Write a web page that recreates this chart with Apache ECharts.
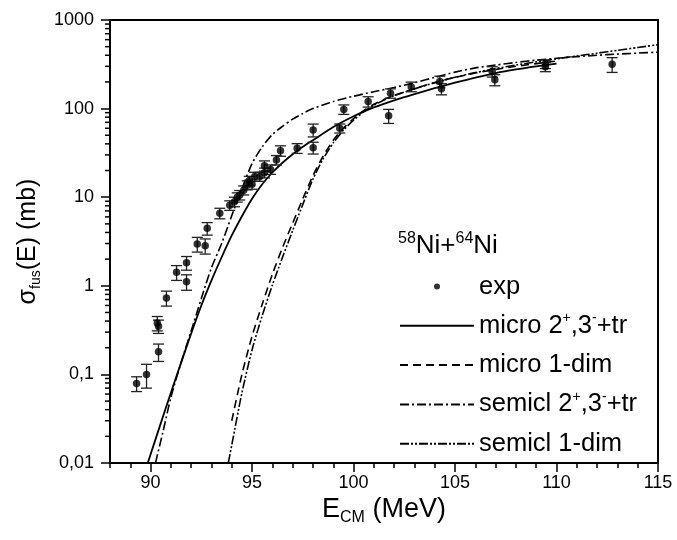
<!DOCTYPE html>
<html>
<head>
<meta charset="utf-8">
<script src="https://cdn.jsdelivr.net/npm/echarts@6/dist/echarts.min.js"></script>
<style>
  html, body { margin: 0; padding: 0; background: #fff; }
  #chart { width: 677px; height: 540px; }
</style>
</head>
<body>
<div id="chart"></div>
<script>
// Measured fusion cross sections: energy (MeV), sigma (mb), absolute error (mb)
const expE = [89.31, 89.80, 90.33, 90.39, 90.39, 90.78, 91.28, 91.77, 91.77, 92.30, 92.69, 92.79,
  93.41, 93.90, 94.13, 94.27, 94.39, 94.59, 94.76, 94.86, 95.00, 95.13, 95.38, 95.61, 95.61,
  95.91, 96.20, 96.40, 97.22, 98.01, 98.01, 99.32, 99.52, 100.72, 101.73, 101.82, 102.84,
  104.25, 104.33, 106.83, 106.96, 109.45, 109.45, 112.74];
const expSigma = [0.079, 0.10, 0.38, 0.35, 0.18, 0.73, 1.42, 1.82, 1.11, 2.96, 2.83, 4.45,
  6.6, 8.1, 8.9, 10.0, 10.6, 12.0, 13.7, 15.4, 14.0, 17.1, 17.1, 22.7, 18.9,
  20.6, 26.3, 33.5, 35.7, 57.4, 36.2, 60, 98, 120, 83, 149, 177,
  202, 167, 262, 211, 296, 318, 316];
const expErr = [0.015, 0.03, 0.07, 0.06, 0.04, 0.14, 0.27, 0.32, 0.22, 0.56, 0.55, 0.72,
  0.9, 1.0, 1.1, 1.2, 1.3, 1.4, 1.6, 1.8, 1.7, 2.0, 2.0, 3.0, 2.4,
  2.5, 3.2, 4.5, 4.5, 9.5, 5.5, 7, 12, 16, 15, 18, 22,
  30, 24, 35, 30, 35, 35, 60];

// Microscopic calculation, coupled 2+, 3- and transfer channels
const microFullE = [89.86, 90.5, 91.0, 91.5, 92.0, 92.5, 93.0, 93.5, 94.0, 94.5, 95.0, 95.5, 96.0,
  96.5, 97.0, 97.5, 98.0, 99.0, 100.0, 101.0, 102.0, 103.0, 104.0, 105.0, 106.0, 107.0, 108.0, 109.0, 110.0];
const microFullS = [0.01, 0.028, 0.062, 0.135, 0.29, 0.6, 1.15, 2.1, 3.7, 6.1, 9.6, 14.0, 19.0,
  24.5, 30.5, 37, 44, 62, 82, 103, 124, 146, 170, 196, 224, 252, 277, 300, 322];

// Microscopic calculation, one-dimensional barrier
const micro1E = [94.0, 94.5, 95.0, 95.5, 96.0, 96.5, 97.0, 97.5, 98.0, 98.5, 99.0, 99.5, 100.0,
  100.5, 101.0, 101.5, 102.0, 103.0, 104.0, 105.0, 106.0, 107.0, 108.0, 109.0, 110.0];
const micro1S = [0.03, 0.1, 0.27, 0.62, 1.35, 2.7, 5.1, 9.6, 17.5, 29, 44, 60, 77,
  95, 112, 127, 141, 168, 197, 225, 252, 276, 300, 322, 345];

// Semiclassical calculation, coupled 2+, 3- and transfer channels
const semiFullE = [90.24, 90.6, 91.0, 91.5, 92.0, 92.5, 93.0, 93.5, 94.0, 94.5, 95.0, 95.5, 96.0,
  96.5, 97.0, 97.5, 98.0, 99.0, 100.0, 101.0, 102.0, 103.0, 104.0, 105.0, 106.0, 107.0, 108.0,
  109.0, 110.0, 111.0, 112.0, 113.0, 114.0, 115.0];
const semiFullS = [0.01, 0.022, 0.055, 0.135, 0.31, 0.72, 1.6, 3.0, 6.2, 12.5, 24, 37, 51,
  63, 76, 88, 100, 120, 138, 155, 173, 196, 225, 258, 288, 310, 332,
  352, 370, 386, 400, 412, 423, 434];

// Semiclassical calculation, one-dimensional barrier
const semi1E = [93.83, 94.0, 94.5, 95.0, 95.5, 96.0, 96.5, 97.0, 97.5, 98.0, 98.5, 99.0, 99.5,
  100.0, 100.5, 101.0, 101.5, 102.0, 103.0, 104.0, 105.0, 106.0, 107.0, 108.0, 109.0, 110.0,
  111.0, 112.0, 113.0, 114.0, 115.0];
const semi1S = [0.01, 0.016, 0.062, 0.19, 0.46, 1.02, 2.1, 4.2, 8.3, 16, 27, 41, 57,
  74, 92, 109, 125, 140, 167, 196, 226, 255, 283, 310, 337, 364,
  393, 422, 455, 489, 525];

// Axis ticks
const xMajorTicks = [90, 95, 100, 105, 110, 115];
const yDecades = [0.01, 0.1, 1, 10, 100];
const yMinorSteps = [2, 3, 4, 5, 6, 7, 8, 9];

const X_MIN = 88, X_MAX = 115;
const FONT = '"Liberation Sans", Arial, sans-serif';

const yMinorTicks = [];
yDecades.forEach(d => yMinorSteps.forEach(s => yMinorTicks.push([X_MIN, +(d * s).toPrecision(3)])));

const legendLabels = {
  'exp': 'exp',
  'micro 2+,3-+tr': 'micro 2{sup|+},3{sup|-}+tr',
  'micro 1-dim': 'micro 1-dim',
  'semicl 2+,3-+tr': 'semicl 2{sup|+},3{sup|-}+tr',
  'semicl 1-dim': 'semicl 1-dim'
};

const zip = (xs, ys) => xs.map((x, i) => [x, ys[i]]);

const chart = echarts.init(document.getElementById('chart'), null, { renderer: 'canvas' });

const curveStyle = (dash, width) => ({
  type: 'line', symbol: 'none', showSymbol: false, smooth: 0.25, silent: true,
  lineStyle: { color: '#000', width: width, type: dash },
  itemStyle: { color: '#000' }, z: 3
});

// legend entries for the curves show only the line sample
const lineLegendItem = name => ({ name: name, itemStyle: { opacity: 0 } });

chart.setOption({
  animation: false,
  backgroundColor: '#fff',
  textStyle: { fontFamily: FONT, color: '#000' },
  title: {
    text: '{sup|58}Ni+{sup|64}Ni',
    left: 398, top: 231, padding: 0,
    textStyle: {
      fontFamily: FONT, fontSize: 26, fontWeight: 'normal', color: '#000', lineHeight: 30,
      rich: { sup: { fontFamily: FONT, fontSize: 16, verticalAlign: 'top', lineHeight: 30, color: '#000' } }
    }
  },
  legend: {
    orient: 'vertical', left: 399, top: 272, padding: 0,
    itemWidth: 74, itemHeight: 6, itemGap: 10.3,
    selectedMode: false,
    formatter: name => legendLabels[name],
    textStyle: {
      fontFamily: FONT, fontSize: 25.5, color: '#000', lineHeight: 29,
      rich: { sup: { fontFamily: FONT, fontSize: 14, verticalAlign: 'top', lineHeight: 29, color: '#000' } }
    },
    data: [
      { name: 'exp', icon: 'circle' },
      lineLegendItem('micro 2+,3-+tr'),
      lineLegendItem('micro 1-dim'),
      lineLegendItem('semicl 2+,3-+tr'),
      lineLegendItem('semicl 1-dim')
    ]
  },
  grid: {
    left: 110, right: 19, top: 20, bottom: 77,
    show: true, borderColor: '#000', borderWidth: 2, backgroundColor: 'transparent'
  },
  xAxis: [
    {
      type: 'value', min: X_MIN, max: X_MAX, interval: 1, position: 'bottom',
      axisLine: { show: true, lineStyle: { color: '#000', width: 2 } },
      axisTick: { show: true, inside: false, length: 5, lineStyle: { color: '#000', width: 1.5 } },
      axisLabel: { show: false },
      splitLine: { show: false },
      name: 'E{sub|CM} (MeV)', nameLocation: 'middle', nameGap: 31,
      nameTextStyle: {
        fontFamily: FONT, fontSize: 27, color: '#000', lineHeight: 32,
        rich: { sub: { fontFamily: FONT, fontSize: 16, verticalAlign: 'bottom', lineHeight: 32, color: '#000' } }
      }
    },
    {
      type: 'value', min: X_MIN, max: X_MAX, position: 'bottom',
      axisLine: { show: false },
      axisTick: { show: true, inside: false, length: 9, customValues: xMajorTicks, lineStyle: { color: '#000', width: 1.5 } },
      axisLabel: { show: true, customValues: xMajorTicks, margin: 11, fontFamily: FONT, fontSize: 18, color: '#000' },
      splitLine: { show: false }
    }
  ],
  yAxis: {
    type: 'log', logBase: 10, min: 0.01, max: 1000, splitNumber: 5,
    axisLine: { show: true, lineStyle: { color: '#000', width: 2 } },
    axisTick: { show: true, inside: false, length: 9, lineStyle: { color: '#000', width: 1.5 } },
    minorTick: { show: false },
    splitLine: { show: false },
    axisLabel: {
      margin: 16, fontFamily: FONT, fontSize: 18, color: '#000',
      formatter: v => String(+Number(v).toPrecision(6)).replace('.', ',')
    },
    name: 'σ{sub|fus}(E) (mb)', nameLocation: 'middle', nameRotate: 90, nameGap: 66,
    nameTextStyle: {
      fontFamily: FONT, fontSize: 25, color: '#000', lineHeight: 30,
      rich: { sub: { fontFamily: FONT, fontSize: 14, verticalAlign: 'bottom', lineHeight: 30, color: '#000' } }
    }
  },
  series: [
    {
      name: 'yMinorTicks', type: 'custom', silent: true, clip: false,
      data: yMinorTicks, encode: { x: 0, y: 1 },
      renderItem: (params, api) => {
        const p = api.coord([api.value(0), api.value(1)]);
        return { type: 'line', shape: { x1: p[0] - 5, y1: p[1], x2: p[0], y2: p[1] },
                 style: { stroke: '#000', lineWidth: 1.5 } };
      }
    },
    Object.assign(curveStyle('solid', 1.8), { name: 'micro 2+,3-+tr', data: zip(microFullE, microFullS) }),
    Object.assign(curveStyle([8, 5], 1.6), { name: 'micro 1-dim', data: zip(micro1E, micro1S) }),
    Object.assign(curveStyle([9, 3, 2, 3], 1.6), { name: 'semicl 2+,3-+tr', data: zip(semiFullE, semiFullS) }),
    Object.assign(curveStyle([9, 2, 2, 2, 2, 2], 1.6), { name: 'semicl 1-dim', data: zip(semi1E, semi1S) }),
    {
      name: 'expErrors', type: 'custom', silent: true, z: 4,
      data: expE.map((e, i) => [e, expSigma[i] - expErr[i], expSigma[i] + expErr[i]]),
      encode: { x: 0, y: [1, 2] },
      renderItem: (params, api) => {
        const lo = api.coord([api.value(0), api.value(1)]);
        const hi = api.coord([api.value(0), api.value(2)]);
        const half = 5.5;
        const st = { stroke: '#222', lineWidth: 1.3 };
        return {
          type: 'group',
          children: [
            { type: 'line', shape: { x1: lo[0], y1: lo[1], x2: hi[0], y2: hi[1] }, style: st },
            { type: 'line', shape: { x1: lo[0] - half, y1: lo[1], x2: lo[0] + half, y2: lo[1] }, style: st },
            { type: 'line', shape: { x1: hi[0] - half, y1: hi[1], x2: hi[0] + half, y2: hi[1] }, style: st }
          ]
        };
      }
    },
    {
      name: 'exp', type: 'scatter', symbol: 'circle', symbolSize: 7.5, z: 5,
      itemStyle: { color: '#000' },
      data: zip(expE, expSigma)
    }
  ]
});
</script>
</body>
</html>
